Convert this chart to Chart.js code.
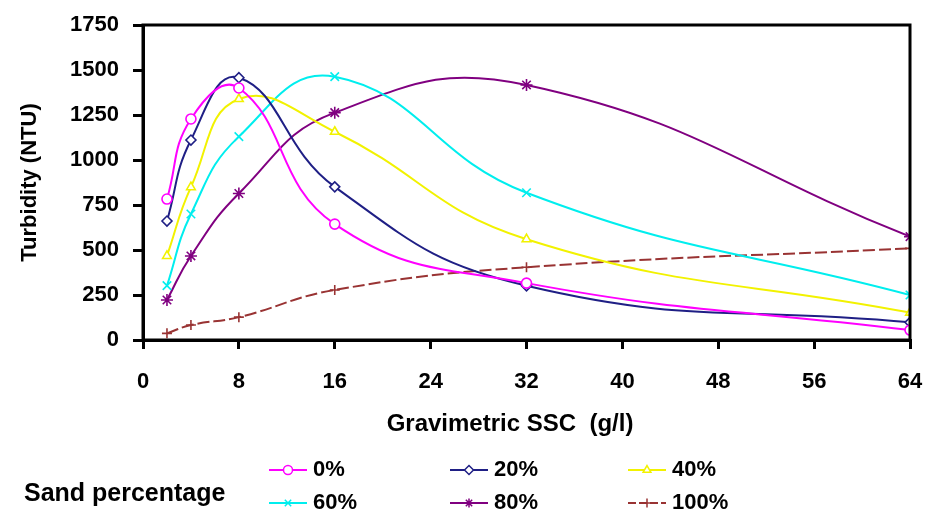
<!DOCTYPE html>
<html>
<head>
<meta charset="utf-8">
<script src="https://cdn.jsdelivr.net/npm/chart.js@4/dist/chart.umd.min.js"></script>
<style>
  html, body { margin: 0; padding: 0; background: #fff; }
  #wrap { width: 925px; height: 516px; }
</style>
</head>
<body>
<div id="wrap"><canvas id="grafico" width="925" height="516"></canvas></div>
<script>
// datos
const ssc = [2, 4, 8, 16, 32, 64];
const sand0 = [783, 1228, 1400, 644, 316, 55];
const sand20 = [661, 1111, 1457, 851, 301, 98];
const sand40 = [467, 849, 1339, 1157, 560, 152];
const sand60 = [302, 700, 1130, 1463, 818, 250];
const sand80 = [222, 467, 814, 1263, 1417, 574];
const sand100 = [37, 83, 127, 278, 404, 509];
const etiquetas = ['0%', '20%', '40%', '60%', '80%', '100%'];
const xTicks = [0, 8, 16, 24, 32, 40, 48, 56, 64];
const yTicks = [0, 250, 500, 750, 1000, 1250, 1500, 1750];

const FONT = '"Liberation Sans", Arial, sans-serif';

function serie(label, valores, color, estilo, extra) {
  return Object.assign({
    label: label,
    data: valores.map((v, i) => ({ x: ssc[i], y: v })),
    borderColor: color,
    backgroundColor: '#fff',
    pointBorderColor: color,
    pointBackgroundColor: '#fff',
    pointStyle: estilo,
    pointRadius: 5,
    pointBorderWidth: 1.6,
    borderWidth: 2,
    tension: 0.45,
    fill: false
  }, extra || {});
}

const datasets = [
  serie(etiquetas[0], sand0, '#ff00ff', 'circle'),
  serie(etiquetas[1], sand20, '#1f1f85', 'rectRot'),
  serie(etiquetas[2], sand40, '#f2f200', 'triangle'),
  serie(etiquetas[3], sand60, '#00eeee', 'crossRot', { pointRadius: 6 }),
  serie(etiquetas[4], sand80, '#800080', 'star', { pointRadius: 6 }),
  serie(etiquetas[5], sand100, '#993333', 'cross', { borderDash: [12, 4] })
];

// Marco completo alrededor del area
const marco = {
  id: 'marco',
  afterDraw(chart) {
    const { ctx, chartArea: a } = chart;
    ctx.save();
    ctx.strokeStyle = '#000';
    ctx.lineWidth = 3;
    ctx.strokeRect(a.left, a.top, a.right - a.left, a.bottom - a.top);
    ctx.restore();
  }
};

// Titulo del eje x y leyenda de abajo
const leyenda = {
  id: 'leyenda',
  afterDraw(chart) {
    const ctx = chart.ctx;
    ctx.save();
    ctx.fillStyle = '#000';
    ctx.textBaseline = 'middle';
    ctx.textAlign = 'center';
    ctx.font = 'bold 24px ' + FONT;
    ctx.fillText('Gravimetric SSC  (g/l)', 510, 424);
    ctx.textAlign = 'left';
    ctx.font = 'bold 25px ' + FONT;
    ctx.fillText('Sand percentage', 24, 494);
    ctx.font = 'bold 22px ' + FONT;
    const colX = [269, 450, 628];
    const filaY = [470, 503];
    chart.data.datasets.forEach((ds, i) => {
      const x0 = colX[i % 3];
      const y = filaY[Math.floor(i / 3)];
      ctx.save();
      ctx.strokeStyle = ds.borderColor;
      ctx.lineWidth = 2;
      ctx.setLineDash(ds.borderDash ? [8, 3] : []);
      ctx.beginPath();
      ctx.moveTo(x0, y);
      ctx.lineTo(x0 + 38, y);
      ctx.stroke();
      ctx.setLineDash([]);
      ctx.fillStyle = '#fff';
      ctx.strokeStyle = ds.borderColor;
      ctx.lineWidth = 1.5;
      Chart.helpers.drawPoint(ctx, {
        pointStyle: ds.pointStyle,
        radius: 4.5,
        borderWidth: 1.5,
        rotation: 0
      }, x0 + 19, y);
      ctx.restore();
      ctx.fillStyle = '#000';
      ctx.fillText(ds.label, x0 + 44, y);
    });
    ctx.restore();
  }
};

const ctx = document.getElementById('grafico').getContext('2d');
new Chart(ctx, {
  type: 'line',
  data: { datasets: datasets },
  options: {
    responsive: false,
    animation: false,
    layout: { padding: { top: 25, right: 15, bottom: 76, left: 0 } },
    plugins: { legend: { display: false }, tooltip: { enabled: false } },
    scales: {
      x: {
        type: 'linear',
        min: 0,
        max: 64,
        afterBuildTicks: s => { s.ticks = xTicks.map(v => ({ value: v })); },
        afterFit: s => { s.height = 100; s.paddingLeft = 0; s.paddingRight = 0; },
        grid: { display: true, drawOnChartArea: false, drawTicks: true, tickLength: 9, color: '#000', lineWidth: 3 },
        border: { display: true, color: '#000', width: 3 },
        ticks: { color: '#000', font: { family: FONT, size: 22, weight: 'bold' }, padding: 20, maxRotation: 0, callback: v => String(v) },
        title: { display: false, text: 'Gravimetric SSC  (g/l)' }
      },
      y: {
        min: 0,
        max: 1750,
        afterBuildTicks: s => { s.ticks = yTicks.map(v => ({ value: v })); },
        afterFit: s => { s.width = 143; s.paddingTop = 0; s.paddingBottom = 0; },
        grid: { display: true, drawOnChartArea: false, drawTicks: true, tickLength: 10, color: '#000', lineWidth: 3 },
        border: { display: true, color: '#000', width: 3 },
        ticks: { color: '#000', font: { family: FONT, size: 22, weight: 'bold' }, padding: 14, callback: v => String(v) },
        title: { display: true, text: 'Turbidity (NTU)', color: '#000', font: { family: FONT, size: 22, weight: 'bold' }, padding: { top: 17, bottom: 0 } }
      }
    }
  },
  plugins: [marco, leyenda]
});
</script>
</body>
</html>
